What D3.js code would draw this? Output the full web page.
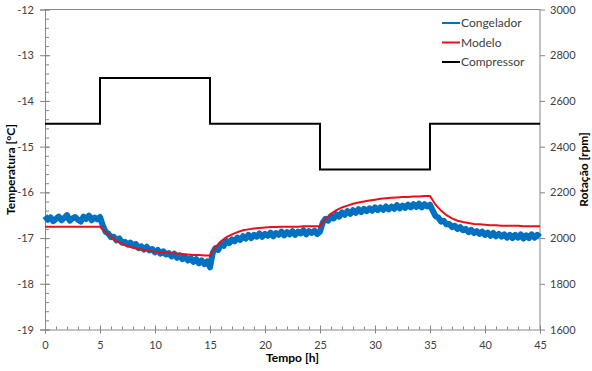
<!DOCTYPE html>
<html>
<head>
<meta charset="utf-8">
<script src="https://cdn.jsdelivr.net/npm/d3@7"></script>
<style>
  body { margin: 0; background: #fff; }
  svg text { font-family: Lato, "Noto Sans", sans-serif; fill: #404040; }
</style>
</head>
<body>
<div class="chart-container"></div>
<script>
var margin = {top: 9.5, right: 52, bottom: 41.5, left: 45};
var width = 592 - margin.left - margin.right;
var height = 371 - margin.top - margin.bottom;

// medido no congelador, a cada 0.25 h
var congeladorStep = 0.25;
var congelador = [
  // 0 - 5 h
  -16.52, -16.60, -16.55, -16.63, -16.58, -16.53, -16.61, -16.56, -16.50, -16.62,
  -16.57, -16.54, -16.60, -16.64, -16.53, -16.58, -16.51, -16.61, -16.55, -16.59, -16.54,
  // 5.25 - 15 h
  -16.72, -16.86, -16.90, -16.98, -16.97, -17.05, -17.01, -17.10, -17.08, -17.14,
  -17.10, -17.16, -17.13, -17.22, -17.18, -17.25, -17.19, -17.27, -17.24, -17.31,
  -17.26, -17.34, -17.29, -17.36, -17.33, -17.40, -17.34, -17.43, -17.38, -17.46,
  -17.41, -17.49, -17.44, -17.52, -17.46, -17.55, -17.49, -17.57, -17.51, -17.64,
  // 15.25 - 25 h
  -17.32, -17.22, -17.26, -17.13, -17.17, -17.06, -17.11, -17.03, -17.07, -16.99,
  -17.04, -16.96, -17.01, -16.93, -17.00, -16.93, -16.97, -16.90, -16.97, -16.91,
  -16.95, -16.88, -16.96, -16.89, -16.93, -16.86, -16.94, -16.87, -16.92, -16.85,
  -16.93, -16.86, -16.90, -16.83, -16.92, -16.85, -16.89, -16.84, -16.91, -16.86,
  // 25.25 - 35 h
  -16.66, -16.58, -16.62, -16.52, -16.57, -16.48, -16.53, -16.44, -16.49, -16.41,
  -16.47, -16.39, -16.45, -16.37, -16.43, -16.36, -16.41, -16.35, -16.40, -16.33,
  -16.39, -16.33, -16.38, -16.31, -16.37, -16.31, -16.36, -16.28, -16.35, -16.29,
  -16.34, -16.27, -16.33, -16.26, -16.32, -16.25, -16.33, -16.26, -16.31, -16.27,
  // 35.25 - 45 h
  -16.40, -16.52, -16.55, -16.64, -16.62, -16.70, -16.69, -16.76, -16.73, -16.80,
  -16.76, -16.83, -16.80, -16.87, -16.82, -16.89, -16.85, -16.91, -16.86, -16.93,
  -16.88, -16.95, -16.89, -16.96, -16.91, -16.97, -16.92, -16.99, -16.93, -17.00,
  -16.93, -16.99, -16.92, -17.01, -16.94, -17.00, -16.92, -16.99, -16.93, -16.98
];

// modelo, a cada 0.5 h
var modeloStep = 0.5;
var modelo = [
  -16.75, -16.75, -16.75, -16.75, -16.75, -16.75, -16.75, -16.75, -16.75, -16.75, -16.75,
  -16.86, -16.97, -17.06, -17.13, -17.18, -17.21, -17.24, -17.26, -17.28, -17.30,
  -17.31, -17.32, -17.33, -17.34, -17.35, -17.36, -17.37, -17.37, -17.38, -17.38,
  -17.20, -17.07, -16.98, -16.92, -16.87, -16.83, -16.81, -16.79, -16.78, -16.77,
  -16.76, -16.76, -16.75, -16.75, -16.75, -16.75, -16.74, -16.74, -16.74, -16.74,
  -16.58, -16.47, -16.39, -16.33, -16.29, -16.25, -16.22, -16.20, -16.18, -16.16,
  -16.14, -16.13, -16.12, -16.11, -16.10, -16.10, -16.09, -16.09, -16.08, -16.08,
  -16.27, -16.40, -16.50, -16.57, -16.62, -16.65, -16.67, -16.69, -16.70, -16.71,
  -16.72, -16.72, -16.73, -16.73, -16.73, -16.73, -16.74, -16.74, -16.74, -16.74
];

var compressorTime = [0, 5, 15, 25, 35, 45];
var compressorRpm = [2500, 2700, 2500, 2300, 2500, 2500];

var xTicks = [0, 5, 10, 15, 20, 25, 30, 35, 40, 45];
var yTicks = [-19, -18, -17, -16, -15, -14, -13, -12];
var y2Ticks = [1600, 1800, 2000, 2200, 2400, 2600, 2800, 3000];

var series = [
  {name: 'Congelador', color: '#0070c0'},
  {name: 'Modelo', color: '#e8101c'},
  {name: 'Compressor', color: '#000000'}
];

var congeladorData = congelador.map((v, i) => ({t: i * congeladorStep, v: v}));
var modeloData = modelo.map((v, i) => ({t: i * modeloStep, v: v}));
var compressorData = compressorTime.map((t, i) => ({t: t, v: compressorRpm[i]}));

var x = d3.scaleLinear().domain([0, 45]).range([margin.left, margin.left + width]);
var y = d3.scaleLinear().domain([-19, -12]).range([margin.top + height, margin.top]);
var y2 = d3.scaleLinear().domain([1600, 3000]).range([margin.top + height, margin.top]);

var svg = d3.select('.chart-container').append('svg')
  .attr('width', 592)
  .attr('height', 371);

var axisColor = '#868686';
var plain = d => String(d);

// minor ticks
svg.append('g')
  .attr('transform', `translate(0, ${margin.top + height})`)
  .call(d3.axisTop(x).tickValues(d3.range(0, 46, 1)).tickSize(3).tickFormat(''))
  .call(g => g.select('.domain').remove());

svg.append('g')
  .attr('transform', `translate(${margin.left},0)`)
  .call(d3.axisRight(y).tickValues(d3.range(-19, -11.9, 0.2)).tickSize(4).tickFormat(''))
  .call(g => g.select('.domain').remove());

var gX = svg.append('g')
  .attr('transform', `translate(0, ${margin.top + height})`)
  .call(d3.axisBottom(x).tickValues(xTicks).tickSize(4).tickPadding(8).tickFormat(plain));
gX.selectAll('.tick line').attr('y1', -4);

var gY = svg.append('g')
  .attr('transform', `translate(${margin.left},0)`)
  .call(d3.axisLeft(y).tickValues(yTicks).tickSize(5).tickPadding(6).tickFormat(plain));
gY.selectAll('.tick line').attr('x1', 5).attr('x2', -5);

var gY2 = svg.append('g')
  .attr('transform', `translate(${margin.left + width},0)`)
  .call(d3.axisRight(y2).tickValues(y2Ticks).tickSize(5).tickPadding(5).tickFormat(plain));

svg.append('line')
  .attr('x1', margin.left).attr('x2', margin.left + width)
  .attr('y1', margin.top).attr('y2', margin.top)
  .style('stroke', axisColor);

svg.selectAll('.domain, .tick line').style('stroke', axisColor);
svg.selectAll('.tick text').style('font-size', '11px').style('fill', '#404040');
gY2.selectAll('.domain').attr('d', `M0,${margin.top}V${margin.top + height}`);

var line = d3.line()
  .x(d => x(d.t))
  .y(d => y(d.v));

svg.append('path')
  .datum(congeladorData)
  .attr('d', line)
  .style('fill', 'none')
  .style('stroke', series[0].color)
  .style('stroke-width', 6)
  .style('stroke-linejoin', 'round');

svg.append('path')
  .datum(modeloData)
  .attr('d', line)
  .style('fill', 'none')
  .style('stroke', series[1].color)
  .style('stroke-width', 2);

svg.append('path')
  .datum(compressorData)
  .attr('d', d3.line().x(d => x(d.t)).y(d => y2(d.v)).curve(d3.curveStepAfter))
  .style('fill', 'none')
  .style('stroke', series[2].color)
  .style('stroke-width', 2);

// legenda
var legend = svg.selectAll('.legend')
  .data(series)
  .enter().append('g')
    .attr('class', 'legend')
    .attr('transform', (d, i) => `translate(442, ${23 + i * 19.5})`);

legend.append('line')
  .attr('x1', 0).attr('x2', 18)
  .style('stroke', d => d.color)
  .style('stroke-width', 2);

legend.append('text')
  .attr('x', 19)
  .attr('dy', '0.35em')
  .style('font-size', '12px')
  .text(d => d.name);

// títulos dos eixos
svg.append('text')
  .attr('x', margin.left + width / 2)
  .attr('y', 362)
  .attr('text-anchor', 'middle')
  .style('font-size', '12px')
  .style('font-weight', 'bold')
  .style('fill', '#000')
  .text('Tempo [h]');

svg.append('text')
  .attr('transform', `translate(15, ${margin.top + height / 2}) rotate(-90)`)
  .attr('text-anchor', 'middle')
  .style('font-size', '12px')
  .style('font-weight', 'bold')
  .style('fill', '#000')
  .text('Temperatura [°C]');

svg.append('text')
  .attr('transform', `translate(588, ${margin.top + height / 2}) rotate(-90)`)
  .attr('text-anchor', 'middle')
  .style('font-size', '12px')
  .style('font-weight', 'bold')
  .style('fill', '#000')
  .text('Rotação [rpm]');
</script>
</body>
</html>
